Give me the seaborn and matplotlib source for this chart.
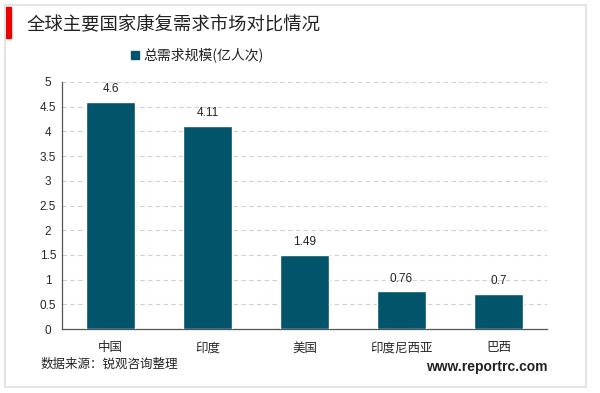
import matplotlib
matplotlib.use('Agg')
import matplotlib.pyplot as plt
import seaborn as sns
import pandas as pd
from matplotlib.patches import Rectangle

countries = ['中国', '印度', '美国', '印度尼西亚', '巴西']
demand = [4.6, 4.11, 1.49, 0.76, 0.7]
value_labels = ['4.6', '4.11', '1.49', '0.76', '0.7']
yticks = [0, 0.5, 1, 1.5, 2, 2.5, 3, 3.5, 4, 4.5, 5]
ytick_labels = ['0', '0.5', '1', '1.5', '2', '2.5', '3', '3.5', '4', '4.5', '5']

sns.set_theme(style='white')
plt.rcParams['font.family'] = ['Noto Sans CJK SC', 'DejaVu Sans']

bar_color = '#02546b'
df = pd.DataFrame({'country': countries, 'demand': demand})

fig = plt.figure(figsize=(6, 3.93), dpi=100)
ax = fig.add_axes([62 / 600, 1 - 329 / 393, 485 / 600, 247 / 393])

sns.barplot(data=df, x='country', y='demand', color=bar_color, width=0.495,
            saturation=1, ax=ax, zorder=3)

ax.set_ylim(0, 5)
ax.set_yticks(yticks)
ax.set_yticklabels(ytick_labels, fontsize=8.5, family=['Liberation Sans', 'DejaVu Sans'])
ax.set_xlim(-0.5, 4.5)
ax.tick_params(axis='x', labelsize=9, length=0, pad=9)
ax.tick_params(axis='y', length=0, pad=10)
for t in ax.get_yticklabels():
    t.set_horizontalalignment('center')
ax.set_xlabel('')
ax.set_ylabel('')
ax.yaxis.grid(True, linestyle=(0, (4, 3)), color='#d0d0d0', linewidth=0.8, zorder=0)
for s in ['top', 'right']:
    ax.spines[s].set_visible(False)
for s in ['left', 'bottom']:
    ax.spines[s].set_color('#555555')
    ax.spines[s].set_linewidth(0.9)

for i, lab in enumerate(value_labels):
    ax.annotate(lab, (i, demand[i]), xytext=(0, 5), textcoords='offset points',
                ha='center', va='bottom', fontsize=8.5,
                family=['Liberation Sans', 'DejaVu Sans'], color='#222222')

# legend
fig.patches.append(Rectangle((131 / 600, 1 - 59 / 393), 8 / 600, 8 / 393,
                             transform=fig.transFigure, color=bar_color))
fig.text(143 / 600, 1 - 55 / 393, '总需求规模(亿人次)', fontsize=10, va='center',
         ha='left', color='#222222')

# title and decorations
fig.patches.append(Rectangle((5 / 600, 1 - 38 / 393), 6 / 600, 31 / 393,
                             transform=fig.transFigure, color='#ee0000'))
fig.patches.append(Rectangle((5 / 600, 6 / 393), 581 / 600, 382 / 393,
                             transform=fig.transFigure, fill=False,
                             edgecolor='#e4e4e4', linewidth=1.4))
fig.text(27 / 600, 1 - 25 / 393, '全球主要国家康复需求市场对比情况', fontsize=13.2,
         va='center', ha='left', color='#222222')
fig.text(41 / 600, 1 - 364 / 393, '数据来源：锐观咨询整理', fontsize=9,
         va='center', ha='left', color='#222222')
fig.text(548 / 600, 1 - 367 / 393, 'www.reportrc.com', fontsize=10, fontweight='bold',
         va='center', ha='right', color='#222222',
         family=['Liberation Sans', 'DejaVu Sans'])

fig.savefig('out.png', dpi=100)
